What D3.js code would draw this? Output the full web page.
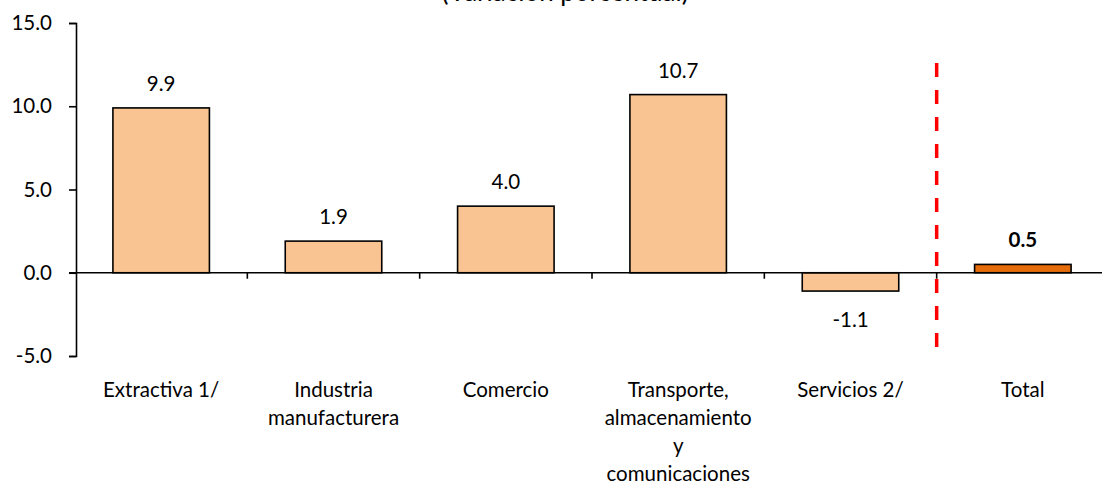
<!DOCTYPE html>
<html><head><meta charset="utf-8">
<script src="https://cdn.jsdelivr.net/npm/d3@7"></script>
<style>
body{margin:0;background:#fff;}
svg{display:block;font-family:Lato,"Open Sans",sans-serif;}
</style></head>
<body>
<svg id="c" width="1102" height="484"></svg>
<script>
const categories = [
  ["Extractiva 1/"],
  ["Industria","manufacturera"],
  ["Comercio"],
  ["Transporte,","almacenamiento","y","comunicaciones"],
  ["Servicios 2/"],
  ["Total"]
];
const values = [9.9, 1.9, 4.0, 10.7, -1.1, 0.5];
const yTicks = [-5, 0, 5, 10, 15];
const title = "(Variación porcentual)";

const FS = 20.5;
const fmt = d => d3.format(".1f")(d).replace("\u2212","-");
const svg = d3.select("#c");
const keys = categories.map((c,i)=>"c"+i);
const x = d3.scaleBand().domain(keys).range([75,1109]).paddingInner(0.44).paddingOuter(0.22);
const y = d3.scaleLinear().domain([-5,15]).range([356,23]);
const step = x.step();

svg.append("text").attr("x",565).attr("y",1).attr("text-anchor","middle")
  .attr("font-size",26).attr("fill","#000").text(title);

// bars
svg.selectAll("rect.bar").data(values).enter().append("rect")
  .attr("x",(d,i)=>x(keys[i]))
  .attr("width",x.bandwidth())
  .attr("y",d=>y(Math.max(0,d)))
  .attr("height",d=>Math.abs(y(d)-y(0)))
  .attr("fill",(d,i)=>i===5?"#E46C0A":"#F9C392")
  .attr("stroke","#000").attr("stroke-width",1.6);

// y axis
const ya = svg.append("g").attr("transform","translate(76,0)")
  .call(d3.axisLeft(y).tickValues(yTicks).tickFormat(fmt).tickSize(7).tickPadding(17));
ya.select(".domain").attr("stroke","#000").attr("stroke-width",1.6);
ya.selectAll(".tick line").attr("stroke","#000").attr("stroke-width",1.6);
ya.selectAll(".tick text").attr("font-size",FS).attr("font-family","Lato").attr("fill","#000");

// zero line
svg.append("line").attr("x1",69).attr("x2",1109).attr("y1",y(0)).attr("y2",y(0))
  .attr("stroke","#000").attr("stroke-width",1.6);
// category boundary ticks
svg.selectAll("line.xt").data(d3.range(1,6)).enter().append("line")
  .attr("x1",d=>x.range()[0]+step*d).attr("x2",d=>x.range()[0]+step*d)
  .attr("y1",y(0)).attr("y2",y(0)+6).attr("stroke","#000").attr("stroke-width",1.6);

// dashed separator
const sx = x.range()[0]+step*5;
svg.append("line").attr("x1",sx).attr("x2",sx).attr("y1",y(12.6)).attr("y2",y(-4.6))
  .attr("stroke","#FF0000").attr("stroke-width",3.5).attr("stroke-dasharray","14,13");

// value labels
svg.selectAll("text.val").data(values).enter().append("text")
  .attr("x",(d,i)=>x(keys[i])+x.bandwidth()/2)
  .attr("y",d=>d>=0?y(d)-17:y(d)+36)
  .attr("text-anchor","middle").attr("font-size",FS)
  .attr("font-weight",(d,i)=>i===5?"bold":"normal")
  .attr("fill","#000").text(fmt);

// category labels
const cl = svg.selectAll("text.cat").data(categories).enter().append("text")
  .attr("text-anchor","middle").attr("font-size",FS).attr("fill","#000");
cl.each(function(lines,i){
  const t=d3.select(this);
  lines.forEach((l,j)=>t.append("tspan").attr("x",x(keys[i])+x.bandwidth()/2).attr("y",397+j*28).text(l));
});
</script>
</body></html>
